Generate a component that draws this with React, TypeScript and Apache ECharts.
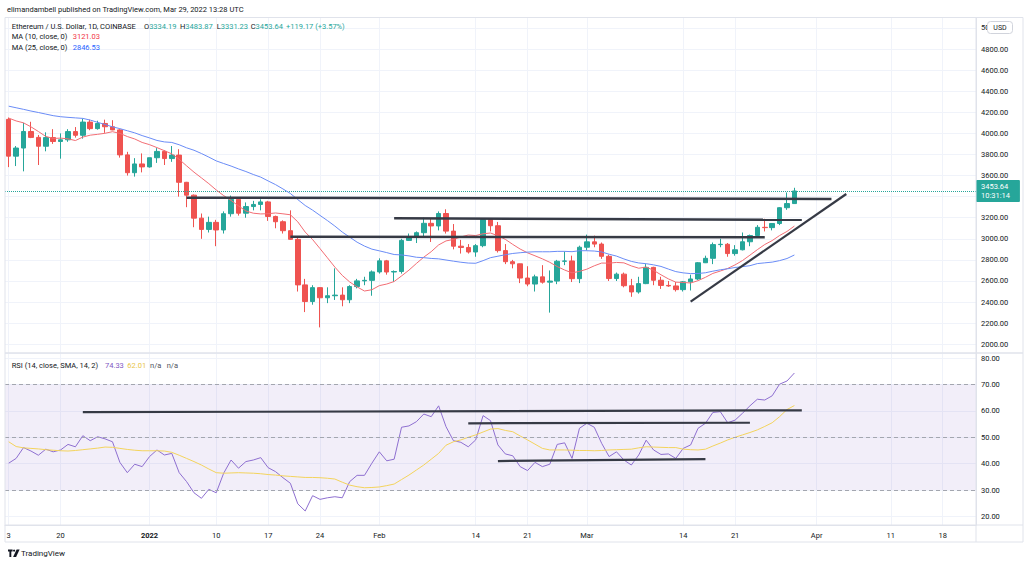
import React, { useEffect, useRef } from "react";
import * as echarts from "echarts";

const START_DATE = "2021-12-13";
const DAY_COUNT = 131;

const OPEN = [4133,3784,3861,4018,3962,3878,3960,3923,3939,4017,
 3982,4107,4045,4094,4063,4033,3796,3627,3710,3682,
 3769,3829,3761,3794,3536,3414,3196,3089,3156,3084,
 3238,3374,3243,3306,3326,3350,3212,3162,3077,2995,
 2563,2405,2537,2441,2460,2466,2422,2547,2601,2606,
 2686,2791,2685,2690,2985,3013,3058,3147,3122,3240,
 3073,2930,2918,2875,2935,3183,3124,2888,2783,2763,
 2628,2571,2639,2589,2599,2787,2790,2622,2920,2971,
 2950,2834,2623,2665,2555,2496,2575,2729,2607,2558,
 2553,2518,2592,2619,2773,2815,2945,2948,2860,2896,
 2972,3031,3109,3106,3145,3295,3334.19];

const CLOSE = [3784,3861,4018,3962,3878,3960,3923,3939,4017,3982,
 4107,4045,4094,4063,4033,3796,3627,3710,3682,3769,
 3829,3761,3794,3536,3414,3196,3089,3156,3084,3238,
 3374,3243,3306,3326,3350,3212,3162,3077,2995,2563,
 2405,2537,2441,2460,2466,2422,2547,2601,2606,2686,
 2791,2685,2690,2985,3013,3058,3147,3122,3240,3073,
 2930,2918,2875,2935,3183,3124,2888,2783,2763,2628,
 2571,2639,2589,2599,2787,2790,2622,2920,2971,2950,
 2834,2623,2665,2555,2496,2575,2729,2607,2558,2553,
 2518,2592,2619,2773,2815,2945,2948,2860,2896,2972,
 3031,3109,3106,3145,3295,3334.19,3453.64];

const HIGH = [4150,3880,4100,4110,3985,4010,4040,4000,4040,4060,
 4140,4130,4120,4130,4125,4040,3825,3765,3810,3770,
 3860,3840,3880,3850,3540,3420,3240,3210,3180,3260,
 3410,3390,3345,3360,3375,3360,3220,3175,3270,3025,
 2620,2560,2540,2540,2720,2540,2560,2620,2640,2700,
 2815,2800,2700,3000,3050,3070,3200,3190,3260,3280,
 3140,2990,2950,2950,3190,3190,3160,2950,2800,2765,
 2740,2660,2750,2700,2800,2880,2840,2935,3040,3030,
 2965,2850,2680,2680,2620,2640,2760,2735,2640,2600,
 2590,2600,2660,2780,2840,2965,3000,2960,2940,3060,
 3040,3130,3190,3150,3300,3440,3483.87];

const LOW = [3680,3690,3640,3955,3700,3830,3900,3760,3920,3960,
 3950,4030,4035,4005,4030,3770,3600,3590,3630,3675,
 3720,3700,3730,3400,3300,3110,3000,3060,2930,3050,
 3210,3220,3200,3270,3270,3170,3100,3050,2990,2500,
 2305,2375,2160,2390,2420,2360,2390,2530,2560,2460,
 2670,2660,2590,2670,2980,2960,3020,2970,3080,3050,
 2900,2860,2860,2830,2920,3070,2870,2760,2720,2580,
 2550,2500,2575,2300,2570,2750,2590,2580,2890,2920,
 2810,2600,2600,2540,2450,2480,2570,2560,2525,2545,
 2500,2500,2510,2610,2770,2760,2920,2830,2840,2890,
 2930,3020,3070,3080,3130,3275,3331.23];

const MA10 = [4145,4118,4100,4062,4018,3971,3952,3955,3948,3932,
 3965,3983,3991,4001,4016,4000,3970,3947,3914,3893,
 3865,3836,3806,3754,3692,3632,3578,3523,3463,3410,
 3364,3312,3264,3243,3236,3238,3245,3237,3228,3161,
 3064,2993,2907,2820,2732,2653,2591,2544,2505,2517,
 2556,2571,2595,2648,2703,2766,2826,2878,2942,2980,
 2994,3018,3036,3031,3048,3055,3029,2995,2947,2903,
 2867,2839,2810,2777,2737,2704,2677,2691,2712,2744,
 2770,2769,2776,2772,2743,2721,2732,2701,2659,2620,
 2589,2586,2581,2603,2635,2672,2694,2719,2753,2794,
 2845,2897,2946,2983,3031,3070,3121.03];

const MA25 = [4258,4243,4228,4212,4198,4183,4168,4158,4152,4147,
 4142,4126,4105,4084,4062,4045,4025,4005,3979,3957,
 3933,3919,3914,3892,3863,3840,3809,3775,3739,3714,
 3690,3663,3638,3610,3585,3549,3514,3473,3430,3372,
 3316,3272,3222,3173,3121,3064,3016,2968,2931,2902,
 2886,2869,2851,2847,2838,2825,2821,2814,2810,2799,
 2788,2778,2770,2768,2793,2821,2835,2849,2861,2868,
 2874,2877,2877,2877,2881,2881,2878,2887,2887,2884,
 2875,2854,2836,2809,2786,2771,2764,2753,2738,2713,
 2689,2677,2670,2671,2678,2693,2706,2716,2728,2736,
 2745,2765,2772,2779,2793,2813,2846.53];

const RSI = [40.2,42.0,46.1,44.8,43.2,45.5,44.5,45.2,47.3,46.4,
 50.6,48.7,50.2,49.4,48.3,40.5,36.6,39.8,38.9,42.7,
 45.2,43.3,43.9,36.6,33.2,29.0,26.9,30.3,29.0,36.4,
 41.4,38.3,40.8,41.4,42.3,38.5,37.0,34.7,32.6,24.8,
 22.1,27.9,26.5,27.1,27.5,27.1,33.2,35.6,35.6,40.2,
 44.5,41.1,41.7,53.8,54.3,55.9,58.8,57.8,61.9,54.0,
 48.7,48.1,46.4,49.0,58.2,56.3,47.1,43.7,43.0,38.9,
 37.4,40.5,38.9,39.8,47.3,47.9,42.0,53.4,55.3,53.8,
 47.7,42.7,44.5,41.4,39.5,43.3,48.9,45.2,43.5,43.7,
 42.0,45.8,47.1,53.4,55.3,59.4,59.7,55.5,56.5,59.1,
 61.9,64.4,64.1,65.7,70.1,71.3,74.33];

const RSI_MA = [48.3,46.5,46.0,45.8,45.6,45.3,45.1,44.9,44.8,45.0,
 45.3,45.6,45.9,46.3,46.2,45.8,45.4,45.1,44.9,44.9,
 44.9,44.8,44.3,43.2,42.0,40.8,39.5,38.0,36.6,36.4,
 36.5,36.6,36.5,36.4,36.2,35.9,35.7,35.4,35.2,35.0,
 34.8,34.8,34.7,34.5,34.2,33.0,31.9,31.3,30.9,31.0,
 31.2,31.7,32.3,34.0,35.7,37.6,39.5,41.7,43.9,47.0,
 48.3,49.0,50.0,50.9,52.0,53.1,53.3,52.6,52.1,50.5,
 49.0,47.4,45.8,45.2,45.2,45.2,45.1,45.0,45.0,44.9,
 45.0,45.2,45.3,45.4,45.5,46.0,46.4,46.3,46.2,46.1,
 46.1,45.5,45.3,45.2,45.5,46.7,47.8,49.0,50.0,50.9,
 51.8,52.8,54.1,55.5,57.8,60.5,62.01];

const TICK_DATES = ["2021-12-13","2021-12-20","2022-01-01","2022-01-10","2022-01-17","2022-01-24",
 "2022-02-01","2022-02-14","2022-02-21","2022-03-01","2022-03-14","2022-03-21",
 "2022-04-01","2022-04-11","2022-04-18"];
const TICK_LABELS = ["3","20","2022","10","17","24","Feb","14","21","Mar","14","21","Apr","11","18"];

// drawn annotation lines, in data space: [category index, value]
const LEVEL_TOP = [[24, 3390], [111, 3378]];
const LEVEL_MID = [[52, 3194], [107, 3180]];
const LEVEL_LOW = [[38, 3020], [102, 3014]];
const TRENDLINE = [[92, 2405], [113, 3425]];
const RSI_LEVEL_HIGH = [[10, 59.5], [107, 60.2]];
const RSI_LEVEL_MID = [[62, 55.3], [100, 55.5]];
const RSI_LEVEL_LOW = [[66, 41.0], [94, 41.7]];

const LAST_PRICE = 3453.64;

function buildDates(): string[] {
  const out: string[] = [];
  const t0 = Date.parse(START_DATE + "T00:00:00Z");
  for (let i = 0; i < DAY_COUNT; i++) {
    out.push(new Date(t0 + i * 86400000).toISOString().slice(0, 10));
  }
  return out;
}

const FONT = "Roboto, 'Noto Sans', sans-serif";
const TEXT = "#131722";
const UP = "#26a69a";
const DOWN = "#ef5350";
const GRID_LINE = "#f0f3fa";
const BORDER = "#e0e3eb";
const DRAW = "#363a45";
const FS = 7.5;

function buildOption() {
  const dates = buildDates();
  const candles = OPEN.map((o, i) => [o, CLOSE[i], LOW[i], HIGH[i]]);
  const showTick = (_i: number, v: string) => TICK_DATES.indexOf(v) >= 0;
  const vSplit = {
    show: true,
    interval: showTick,
    alignWithLabel: true,
    lineStyle: { color: GRID_LINE, width: 1 },
  };
  const drawn = (data: number[][], xi: number, yi: number, width: number) => ({
    type: "line",
    xAxisIndex: xi,
    yAxisIndex: yi,
    data,
    symbol: "none",
    showSymbol: false,
    silent: true,
    z: 8,
    lineStyle: { color: DRAW, width },
  });
  const t = (x: number, y: number, text: string, fill = TEXT, extra: any = {}) => ({
    type: "text",
    x,
    y,
    z: 100,
    silent: true,
    style: {
      text,
      fill,
      fontSize: FS,
      fontFamily: FONT,
      verticalAlign: "middle",
      ...extra,
    },
  });
  const rich = (fill: string) => ({ fill, color: fill, fontSize: FS, fontFamily: FONT });

  return {
    animation: false,
    backgroundColor: "#ffffff",
    grid: [
      { left: 5, right: 48, top: 17.5, height: 335.5 },
      { left: 5, right: 48, top: 353, height: 172 },
    ],
    xAxis: [
      {
        type: "category",
        gridIndex: 0,
        data: dates,
        boundaryGap: true,
        axisLine: { show: false },
        axisTick: { show: false },
        axisLabel: { show: false },
        splitLine: vSplit,
      },
      {
        type: "category",
        gridIndex: 1,
        data: dates,
        boundaryGap: true,
        axisLine: { show: true, lineStyle: { color: BORDER } },
        axisTick: { show: false },
        axisLabel: {
          interval: showTick,
          color: TEXT,
          fontSize: FS,
          fontFamily: FONT,
          margin: 6,
          formatter: (v: string) => {
            const k = TICK_DATES.indexOf(v);
            if (k < 0) return "";
            const s = TICK_LABELS[k];
            return s === "2022" ? "{b|2022}" : s;
          },
          rich: { b: { fontWeight: "bold", fontSize: FS, fontFamily: FONT, color: TEXT } },
        },
        splitLine: vSplit,
      },
    ],
    yAxis: [
      {
        type: "value",
        gridIndex: 0,
        position: "right",
        min: 1917,
        max: 5099,
        splitNumber: 16,
        minInterval: 200,
        maxInterval: 200,
        axisLine: { show: true, lineStyle: { color: BORDER } },
        axisTick: { show: false },
        axisLabel: {
          color: TEXT,
          fontSize: FS,
          fontFamily: FONT,
          margin: 5,
          formatter: (v: number) => {
            const r = Math.round(v / 200) * 200;
            if (Math.abs(v - r) > 0.01 || r === 3400) return "";
            return v.toFixed(2);
          },
        },
        splitLine: { show: true, lineStyle: { color: GRID_LINE } },
      },
      {
        type: "value",
        gridIndex: 1,
        position: "right",
        min: 16.8,
        max: 81.9,
        splitNumber: 6,
        minInterval: 10,
        maxInterval: 10,
        axisLine: { show: true, lineStyle: { color: BORDER } },
        axisTick: { show: false },
        axisLabel: {
          color: TEXT,
          fontSize: FS,
          fontFamily: FONT,
          margin: 5,
          formatter: (v: number) => {
            const r = Math.round(v / 10) * 10;
            if (Math.abs(v - r) > 0.01 || r < 20 || r > 80) return "";
            return v.toFixed(2);
          },
        },
        splitLine: { show: true, lineStyle: { color: GRID_LINE } },
      },
    ],
    series: [
      {
        name: "ETHUSD",
        type: "candlestick",
        xAxisIndex: 0,
        yAxisIndex: 0,
        data: candles,
        barWidth: 5,
        z: 3,
        itemStyle: {
          color: UP,
          color0: DOWN,
          borderColor: UP,
          borderColor0: DOWN,
          borderWidth: 1,
        },
        markLine: {
          silent: true,
          symbol: ["none", "none"],
          animation: false,
          lineStyle: { color: UP, type: "dotted", width: 1 },
          label: {
            show: true,
            position: "end",
            distance: 0,
            formatter: "3453.64\n10:31:14",
            backgroundColor: UP,
            color: "#ffffff",
            fontSize: FS,
            fontFamily: FONT,
            lineHeight: 9.5,
            padding: [1.5, 10, 1.5, 5],
            borderRadius: 1,
          },
          data: [{ yAxis: LAST_PRICE }],
        },
      },
      {
        name: "MA10",
        type: "line",
        xAxisIndex: 0,
        yAxisIndex: 0,
        data: MA10,
        symbol: "none",
        showSymbol: false,
        z: 5,
        lineStyle: { color: "#f26d74", width: 1 },
      },
      {
        name: "MA25",
        type: "line",
        xAxisIndex: 0,
        yAxisIndex: 0,
        data: MA25,
        symbol: "none",
        showSymbol: false,
        z: 5,
        lineStyle: { color: "#6a8cf6", width: 1 },
      },
      drawn(LEVEL_TOP, 0, 0, 2.5),
      drawn(LEVEL_MID, 0, 0, 2.5),
      drawn(LEVEL_LOW, 0, 0, 2.5),
      drawn(TRENDLINE, 0, 0, 2.2),
      {
        name: "RSI",
        type: "line",
        xAxisIndex: 1,
        yAxisIndex: 1,
        data: RSI,
        symbol: "none",
        showSymbol: false,
        z: 4,
        lineStyle: { color: "#8e6fd0", width: 1 },
        markArea: {
          silent: true,
          itemStyle: { color: "rgba(126,87,194,0.1)" },
          data: [[{ yAxis: 30 }, { yAxis: 70 }]],
        },
        markLine: {
          silent: true,
          symbol: ["none", "none"],
          animation: false,
          label: { show: false },
          lineStyle: { color: "#a3a6af", type: [4, 3], width: 1 },
          data: [{ yAxis: 70 }, { yAxis: 50 }, { yAxis: 30 }],
        },
      },
      {
        name: "RSI MA",
        type: "line",
        xAxisIndex: 1,
        yAxisIndex: 1,
        data: RSI_MA,
        symbol: "none",
        showSymbol: false,
        z: 4,
        lineStyle: { color: "#f3d35c", width: 1 },
      },
      drawn(RSI_LEVEL_HIGH, 1, 1, 2.2),
      drawn(RSI_LEVEL_MID, 1, 1, 2.2),
      drawn(RSI_LEVEL_LOW, 1, 1, 2.2),
    ],
    graphic: [
      {
        type: "rect",
        z: 90,
        silent: true,
        shape: { x: 5, y: 17.5, width: 1018, height: 524.5 },
        style: { fill: "none", stroke: BORDER, lineWidth: 1 },
      },
      {
        type: "line",
        z: 90,
        silent: true,
        shape: { x1: 5, y1: 353, x2: 1023, y2: 353 },
        style: { stroke: BORDER, lineWidth: 1.5 },
      },
      {
        type: "line",
        z: 90,
        silent: true,
        shape: { x1: 5, y1: 525, x2: 1023, y2: 525 },
        style: { stroke: BORDER, lineWidth: 1 },
      },
      {
        type: "line",
        z: 90,
        silent: true,
        shape: { x1: 976, y1: 17.5, x2: 976, y2: 542 },
        style: { stroke: BORDER, lineWidth: 1 },
      },
      t(7, 9, "elimandambell published on TradingView.com, Mar 29, 2022 13:28 UTC"),
      t(11.7, 26, "Ethereum / U.S. Dollar, 1D, COINBASE"),
      t(144, 26, "{d|O}{g|3334.19}", TEXT, { rich: { d: rich(TEXT), g: rich(UP) } }),
      t(180, 26, "{d|H}{g|3483.87}", TEXT, { rich: { d: rich(TEXT), g: rich(UP) } }),
      t(216.7, 26, "{d|L}{g|3331.23}", TEXT, { rich: { d: rich(TEXT), g: rich(UP) } }),
      t(250.7, 26, "{d|C}{g|3453.64}", TEXT, { rich: { d: rich(TEXT), g: rich(UP) } }),
      t(286, 26, "+119.17 (+3.57%)", UP),
      t(11.7, 36.5, "MA (10, close, 0)"),
      t(72.7, 36.5, "3121.03", "#f23645"),
      t(11.7, 47, "MA (25, close, 0)"),
      t(72.7, 47, "2846.53", "#2962ff"),
      t(11.7, 365, "RSI (14, close, SMA, 14, 2)"),
      t(105, 365, "74.33", "#7e57c2"),
      t(127.3, 365, "62.01", "#e8c547"),
      t(150, 365, "n/a", "#50535e"),
      t(166.7, 365, "n/a", "#50535e"),
      {
        type: "rect",
        z: 100,
        silent: true,
        shape: { x: 987.5, y: 21.5, width: 25, height: 12, r: 3 },
        style: { fill: "#ffffff", stroke: "#d1d4dc", lineWidth: 1 },
      },
      t(1000, 27.5, "USD", TEXT, { align: "center", fontSize: 7 }),
      {
        type: "polygon",
        z: 100,
        silent: true,
        shape: {
          points: [[8, 549.5], [12.6, 549.5], [12.6, 551.6], [11.3, 551.6], [11.3, 557], [9.4, 557], [9.4, 551.6], [8, 551.6]],
        },
        style: { fill: TEXT },
      },
      {
        type: "circle",
        z: 100,
        silent: true,
        shape: { cx: 14.1, cy: 550.6, r: 1.1 },
        style: { fill: TEXT },
      },
      {
        type: "polygon",
        z: 100,
        silent: true,
        shape: { points: [[16.6, 549.5], [19.6, 549.5], [16.1, 557], [13.1, 557]] },
        style: { fill: TEXT },
      },
      t(21, 553.3, "TradingView", TEXT, { fontSize: 8 }),
    ],
  };
}

export default function App() {
  const ref = useRef<HTMLDivElement | null>(null);
  useEffect(() => {
    if (!ref.current) return;
    const chart = echarts.init(ref.current, undefined, { renderer: "svg" });
    chart.setOption(buildOption() as any);
    return () => chart.dispose();
  }, []);
  return (
    <div
      ref={ref}
      style={{ position: "absolute", left: 0, top: 0, width: 1024, height: 565, background: "#fff" }}
    />
  );
}
